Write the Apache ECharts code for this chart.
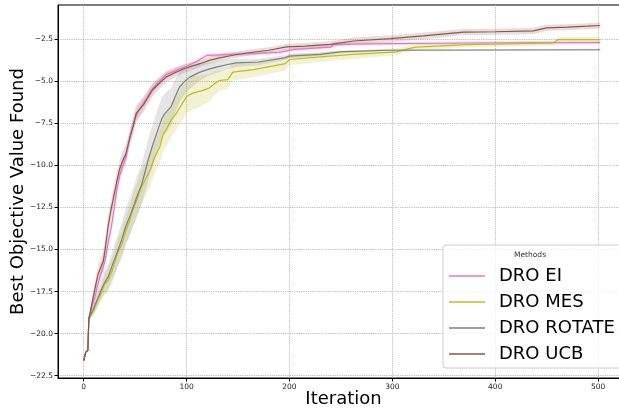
<!DOCTYPE html>
<html>
<head>
<meta charset="utf-8">
<script src="https://cdn.jsdelivr.net/npm/echarts@6/dist/echarts.min.js"></script>
<style>
  html, body { margin: 0; padding: 0; background: #fff; }
  #chart { width: 619px; height: 411px; }
</style>
</head>
<body>
<div id="chart"></div>
<script>
const methods = ['DRO EI', 'DRO MES', 'DRO ROTATE', 'DRO UCB']
const colors = ['#e377c2', '#bcbd22', '#7f7f7f', '#8c564b']
const xTicks = [0, 100, 200, 300, 400, 500]
const yTicks = [-22.5, -20, -17.5, -15, -12.5, -10, -7.5, -5, -2.5]

// DRO EI
const eiIter = [0, 2, 4, 5, 8, 11, 14, 18, 21, 24, 27, 30, 32, 35, 38, 41, 44, 47, 50, 54, 58, 62, 66, 72, 80, 90, 100, 110, 120, 150, 190, 205, 240, 243, 300, 372, 502]
const eiMean = [-21.6, -21.1, -21.0, -19.1, -18.4, -17.8, -17.0, -16.2, -15.6, -14.5, -13.6, -12.4, -11.5, -10.6, -10.0, -9.5, -8.6, -7.8, -7.2, -6.7, -6.3, -5.9, -5.5, -5.1, -4.6, -4.35, -4.1, -3.8, -3.45, -3.38, -3.28, -3.1, -2.97, -2.8, -2.76, -2.72, -2.7]
const eiStd = [0, 0.05, 0.05, 0.1, 0.25, 0.35, 0.4, 0.45, 0.45, 0.45, 0.45, 0.45, 0.45, 0.4, 0.4, 0.4, 0.4, 0.4, 0.35, 0.35, 0.35, 0.3, 0.3, 0.25, 0.2, 0.2, 0.15, 0.15, 0.12, 0.12, 0.12, 0.12, 0.12, 0.12, 0.1, 0.1, 0.1]

// DRO MES
const mesIter = [0, 2, 4, 5, 9, 13, 17, 20, 24, 28, 33, 37, 41, 45, 48, 52, 56, 61, 65, 69, 74, 77, 80, 85, 90, 95, 100, 106, 115, 122, 128, 132, 140, 145, 165, 196, 200, 230, 262, 304, 316, 323, 372, 456, 461, 502]
const mesMean = [-21.6, -21.1, -21.0, -19.1, -18.7, -18.1, -17.6, -17.1, -16.8, -16.2, -15.2, -14.7, -13.9, -13.2, -12.6, -12.0, -11.3, -10.7, -10.2, -9.5, -8.9, -8.2, -7.9, -7.3, -6.9, -6.4, -5.9, -5.7, -5.55, -5.4, -5.1, -4.95, -4.9, -4.45, -4.3, -3.95, -3.7, -3.55, -3.4, -3.25, -3.05, -2.97, -2.82, -2.72, -2.52, -2.52]
const mesStd = [0, 0.05, 0.05, 0.1, 0.3, 0.4, 0.5, 0.6, 0.7, 0.75, 0.8, 0.85, 0.9, 0.9, 0.95, 1.0, 1.0, 1.0, 1.0, 1.0, 1.0, 1.0, 1.0, 1.0, 1.0, 1.0, 1.0, 1.0, 0.9, 0.8, 0.7, 0.6, 0.55, 0.5, 0.45, 0.4, 0.35, 0.3, 0.25, 0.2, 0.18, 0.18, 0.15, 0.15, 0.15, 0.15]

// DRO ROTATE
const rotIter = [0, 2, 4, 5, 9, 13, 17, 20, 24, 28, 33, 37, 41, 45, 48, 52, 56, 60, 63, 67, 72, 76, 79, 85, 89, 93, 98, 103, 113, 120, 129, 140, 148, 170, 195, 200, 230, 249, 294, 502]
const rotMean = [-21.6, -21.1, -21.0, -19.1, -18.6, -18.0, -17.4, -17.0, -16.6, -15.9, -15.1, -14.4, -13.6, -13.0, -12.5, -11.8, -11.2, -10.3, -9.6, -8.8, -7.9, -7.2, -6.9, -6.5, -5.9, -5.35, -5.0, -4.75, -4.45, -4.3, -4.15, -4.0, -3.9, -3.85, -3.6, -3.5, -3.4, -3.25, -3.15, -3.12]
const rotStd = [0, 0.05, 0.05, 0.1, 0.3, 0.45, 0.55, 0.65, 0.75, 0.85, 0.95, 1.0, 1.05, 1.1, 1.15, 1.2, 1.2, 1.25, 1.25, 1.25, 1.25, 1.25, 1.2, 1.1, 1.0, 0.9, 0.8, 0.7, 0.5, 0.4, 0.35, 0.3, 0.25, 0.2, 0.15, 0.12, 0.1, 0.08, 0.06, 0.06]

// DRO UCB
const ucbIter = [0, 2, 4, 5, 8, 11, 14, 17, 19, 21, 24, 27, 30, 32, 35, 38, 41, 45, 48, 51, 55, 58, 63, 67, 72, 80, 88, 97, 105, 113, 122, 132, 145, 160, 180, 197, 215, 240, 262, 298, 330, 369, 400, 437, 450, 470, 490, 502]
const ucbMean = [-21.6, -21.1, -21.0, -19.1, -18.2, -17.3, -16.45, -16.0, -15.7, -14.9, -13.5, -12.5, -11.6, -11.0, -10.2, -9.7, -9.3, -8.3, -7.7, -6.9, -6.6, -6.4, -5.9, -5.5, -5.2, -4.75, -4.5, -4.25, -4.1, -3.95, -3.75, -3.6, -3.45, -3.3, -3.15, -2.95, -2.9, -2.8, -2.6, -2.46, -2.3, -2.07, -2.05, -2.0, -1.82, -1.78, -1.72, -1.68]
const ucbStd = [0, 0.05, 0.05, 0.1, 0.3, 0.4, 0.5, 0.55, 0.6, 0.6, 0.6, 0.6, 0.6, 0.6, 0.55, 0.55, 0.55, 0.5, 0.5, 0.5, 0.45, 0.45, 0.4, 0.4, 0.35, 0.3, 0.3, 0.25, 0.22, 0.2, 0.2, 0.2, 0.18, 0.18, 0.18, 0.18, 0.18, 0.18, 0.2, 0.2, 0.2, 0.18, 0.18, 0.18, 0.18, 0.18, 0.18, 0.18]

const runs = [
  { iter: eiIter, mean: eiMean, std: eiStd },
  { iter: mesIter, mean: mesMean, std: mesStd },
  { iter: rotIter, mean: rotMean, std: rotStd },
  { iter: ucbIter, mean: ucbMean, std: ucbStd }
]

function fmtTick(v) {
  const s = Math.abs(v).toFixed(1)
  return v < 0 ? '\u2212' + s : s
}

// shaded mean +/- std band, drawn once as one polygon through the axes
function bandRenderer(run, color) {
  return function (params, api) {
    if (params.dataIndex !== 0) return
    const upper = run.iter.map((x, k) => api.coord([x, run.mean[k] + run.std[k]]))
    const lower = run.iter.map((x, k) => api.coord([x, run.mean[k] - run.std[k]])).reverse()
    return {
      type: 'polygon',
      shape: { points: upper.concat(lower) },
      style: { fill: color, opacity: 0.2 }
    }
  }
}

const series = []
runs.forEach((run, i) => {
  series.push({
    name: methods[i] + ' band',
    type: 'custom',
    data: run.iter.map((x, k) => [x, run.mean[k] - run.std[k], run.mean[k] + run.std[k]]),
    encode: { x: 0, y: [1, 2] },
    renderItem: bandRenderer(run, colors[i]),
    silent: true,
    z: 2
  })
  series.push({
    name: methods[i],
    type: 'line',
    data: run.iter.map((x, k) => [x, run.mean[k]]),
    symbol: 'none',
    lineStyle: { color: colors[i], width: 1.2 },
    itemStyle: { color: colors[i] },
    z: 2
  })
})

const chart = echarts.init(document.getElementById('chart'), null, { renderer: 'canvas' })

chart.setOption({
  animation: false,
  backgroundColor: '#fff',
  textStyle: { fontFamily: 'DejaVu Sans' },
  grid: {
    left: 58,
    top: 5,
    width: 571,
    height: 373,
    outerBoundsMode: 'none',
    containLabel: false,
    show: true,
    borderColor: '#000',
    borderWidth: 1,
    backgroundColor: 'transparent'
  },
  xAxis: {
    type: 'value',
    min: -25,
    max: 530,
    name: 'Iteration',
    nameLocation: 'middle',
    nameGap: 12,
    nameMoveOverlap: false,
    nameTextStyle: { fontSize: 18, color: '#000', fontFamily: 'DejaVu Sans' },
    axisLine: { show: true, onZero: false, lineStyle: { color: '#000', width: 1 } },
    axisTick: { show: true, customValues: xTicks, length: 3.5, lineStyle: { color: '#000' } },
    axisLabel: { customValues: xTicks, fontSize: 7.5, color: '#222', margin: 5 },
    splitLine: { show: true, customValues: xTicks, lineStyle: { color: '#b0b0b0', type: 'dotted', width: 0.9 } }
  },
  yAxis: {
    type: 'value',
    min: -22.64,
    max: -0.46,
    name: 'Best Objective Value Found',
    nameLocation: 'middle',
    nameGap: 31,
    nameMoveOverlap: false,
    nameTextStyle: { fontSize: 18, color: '#000', fontFamily: 'DejaVu Sans' },
    axisLine: { show: true, onZero: false, lineStyle: { color: '#000', width: 1 } },
    axisTick: { show: true, customValues: yTicks, length: 3.5, lineStyle: { color: '#000' } },
    axisLabel: { customValues: yTicks, fontSize: 7.5, color: '#222', margin: 5, formatter: fmtTick },
    splitLine: { show: true, customValues: yTicks, lineStyle: { color: '#b0b0b0', type: 'dotted', width: 0.9 } }
  },
  legend: {
    data: methods,
    orient: 'vertical',
    left: 443,
    top: 245,
    padding: [22, 8, 5, 6],
    itemGap: 8,
    itemWidth: 36,
    itemHeight: 1.5,
    icon: 'rect',
    backgroundColor: 'rgba(255,255,255,0.8)',
    borderColor: '#cccccc',
    borderWidth: 1,
    borderRadius: 3,
    textStyle: { fontSize: 18, color: '#000', fontFamily: 'DejaVu Sans', padding: [0, 0, 0, 9] }
  },
  graphic: [{
    type: 'text',
    left: 514,
    top: 251,
    z: 100,
    style: { text: 'Methods', fontSize: 7.5, fill: '#333', fontFamily: 'DejaVu Sans' }
  }],
  series: series
})
</script>
</body>
</html>
